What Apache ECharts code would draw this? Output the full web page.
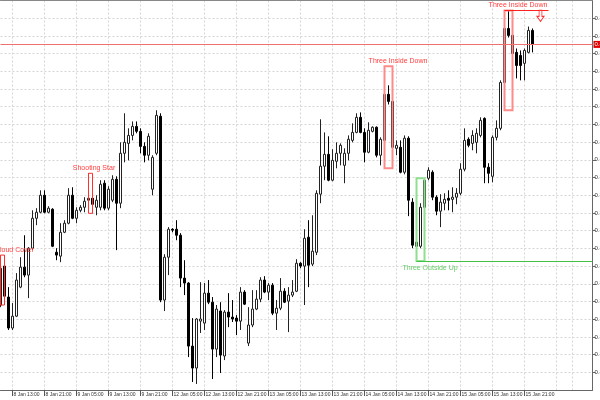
<!DOCTYPE html>
<html><head><meta charset="utf-8">
<script src="https://cdn.jsdelivr.net/npm/echarts@6/dist/echarts.min.js"></script>
<style>html,body{margin:0;padding:0;background:#fff}#c{width:600px;height:400px}</style>
</head><body><div id="c"></div>
<script>
// hourly session segments: [day, first hour, last hour]
const daySegments = [['8 Jan',10,23],['9 Jan',0,23],['12 Jan',0,23],['13 Jan',0,23],['14 Jan',0,23],['15 Jan',0,23],['16 Jan',0,14]];
const tickLabels = ['8 Jan 13:00','8 Jan 21:00','9 Jan 05:00','9 Jan 13:00','9 Jan 21:00','12 Jan 05:00','12 Jan 13:00','12 Jan 21:00','13 Jan 05:00','13 Jan 13:00','13 Jan 21:00','14 Jan 05:00','14 Jan 13:00','14 Jan 21:00','15 Jan 05:00','15 Jan 13:00','15 Jan 21:00'];
const extraGridTimes = ['16 Jan 05:00','16 Jan 09:00'];

const opens = [0.80980,0.81200,0.81025,0.80850,0.80917,0.81081,0.81194,0.81149,0.81301,0.81470,
0.81504,0.81600,0.81504,0.81521,0.81278,0.81256,0.81391,0.81442,0.81600,0.81470,
0.81515,0.81532,0.81572,0.81583,0.81532,0.81532,0.81668,0.81527,0.81572,0.81690,
0.81555,0.81837,0.81893,0.81938,0.81989,0.81961,0.81876,0.81826,0.81634,0.81837,
0.82046,0.81008,0.81250,0.81408,0.81408,0.81374,0.81132,0.81104,0.80748,0.80624,
0.80889,0.80878,0.81047,0.80996,0.80731,0.80946,0.80692,0.80940,0.80912,0.80906,
0.80889,0.81053,0.80765,0.80867,0.80957,0.81013,0.81121,0.81053,0.81092,0.80934,
0.80962,0.81058,0.81002,0.81036,0.81058,0.81216,0.81200,0.81363,0.81211,0.81278,
0.81606,0.81764,0.81831,0.81685,0.81792,0.81837,0.81769,0.81837,0.81910,0.81955,
0.82040,0.81955,0.81843,0.81961,0.81984,0.81826,0.81910,0.82170,0.82130,0.81865,
0.81871,0.81730,0.81922,0.81561,0.81335,0.81312,0.81532,0.81696,0.81730,0.81589,
0.81510,0.81555,0.81583,0.81577,0.81589,0.81611,0.81747,0.81916,0.81893,0.81899,
0.81938,0.82034,0.81758,0.81707,0.81927,0.81978,0.82237,0.82542,0.82503,0.82407,
0.82390,0.82345,0.82407,0.82531];
const closes = [0.81188,0.81030,0.80850,0.80917,0.81121,0.81194,0.81149,0.81301,0.81470,0.81504,
0.81600,0.81504,0.81527,0.81312,0.81262,0.81391,0.81442,0.81600,0.81470,0.81515,
0.81532,0.81566,0.81583,0.81549,0.81572,0.81662,0.81527,0.81634,0.81690,0.81555,
0.81837,0.81899,0.81938,0.81989,0.81961,0.81876,0.81826,0.81933,0.81814,0.82051,
0.81008,0.81250,0.81408,0.81403,0.81374,0.81132,0.81104,0.80748,0.80624,0.80901,
0.80901,0.81047,0.80996,0.80731,0.80957,0.80697,0.80940,0.80912,0.80901,0.80889,
0.81053,0.80985,0.80867,0.80957,0.81013,0.81121,0.81053,0.81092,0.80934,0.80962,
0.81058,0.80996,0.81036,0.81053,0.81216,0.81200,0.81357,0.81205,0.81284,0.81611,
0.81764,0.81831,0.81685,0.81797,0.81837,0.81882,0.81837,0.81916,0.81955,0.82040,
0.81955,0.81843,0.81967,0.81984,0.81826,0.81916,0.82170,0.82130,0.81871,0.81882,
0.81730,0.81922,0.81572,0.81318,0.81312,0.81532,0.81685,0.81741,0.81589,0.81510,
0.81561,0.81577,0.81572,0.81589,0.81611,0.81747,0.81910,0.81882,0.81938,0.81950,
0.82023,0.81758,0.81724,0.81927,0.81978,0.82237,0.82542,0.82503,0.82401,0.82333,
0.82333,0.82418,0.82531,0.82452];
const lows = [0.80968,0.81008,0.80839,0.80839,0.80912,0.81075,0.81137,0.81019,0.81290,0.81431,
0.81498,0.81498,0.81498,0.81307,0.81233,0.81222,0.81386,0.81436,0.81465,0.81442,
0.81504,0.81504,0.81561,0.81498,0.81487,0.81515,0.81515,0.81515,0.81561,0.81290,
0.81527,0.81786,0.81797,0.81910,0.81950,0.81837,0.81786,0.81797,0.81600,0.81826,
0.80996,0.80946,0.81149,0.81391,0.81346,0.81081,0.81036,0.80686,0.80545,0.80534,
0.80822,0.80839,0.80985,0.80562,0.80686,0.80596,0.80669,0.80855,0.80884,0.80810,
0.80839,0.80980,0.80748,0.80855,0.80951,0.80996,0.81047,0.81008,0.80923,0.80839,
0.80951,0.80991,0.80827,0.81025,0.81053,0.81188,0.80980,0.81081,0.81200,0.81262,
0.81555,0.81685,0.81679,0.81679,0.81752,0.81769,0.81668,0.81797,0.81899,0.81950,
0.81950,0.81786,0.81837,0.81955,0.81814,0.81769,0.81854,0.82113,0.81752,0.81826,
0.81724,0.81718,0.81482,0.81301,0.81228,0.81301,0.81515,0.81685,0.81572,0.81487,
0.81420,0.81515,0.81515,0.81504,0.81549,0.81600,0.81735,0.81871,0.81854,0.81837,
0.81927,0.81668,0.81668,0.81673,0.81910,0.81967,0.82221,0.82491,0.82362,0.82260,
0.82249,0.82249,0.82401,0.82407];
const highs = [0.81205,0.81262,0.81081,0.80991,0.81160,0.81250,0.81374,0.81307,0.81515,0.81527,
0.81628,0.81628,0.81538,0.81527,0.81301,0.81442,0.81459,0.81640,0.81645,0.81532,
0.81544,0.81589,0.81724,0.81594,0.81600,0.81685,0.81685,0.81651,0.81713,0.81707,
0.81899,0.82063,0.81978,0.82017,0.82017,0.81978,0.81899,0.81950,0.81826,0.82080,
0.82063,0.81267,0.81420,0.81414,0.81459,0.81386,0.81233,0.81109,0.80906,0.80906,
0.81109,0.81104,0.81121,0.81025,0.80980,0.80996,0.80951,0.81047,0.81008,0.80923,
0.81081,0.81064,0.80968,0.81064,0.81064,0.81137,0.81143,0.81104,0.81104,0.81008,
0.81132,0.81075,0.81081,0.81121,0.81239,0.81222,0.81408,0.81459,0.81487,0.81628,
0.82029,0.81955,0.81933,0.81860,0.81899,0.81893,0.81865,0.81938,0.82006,0.82063,
0.82068,0.81978,0.82012,0.81989,0.81989,0.81927,0.82328,0.82221,0.82142,0.81910,
0.81910,0.81938,0.81933,0.81583,0.81357,0.81555,0.81696,0.81758,0.81741,0.81600,
0.81606,0.81611,0.81628,0.81645,0.81640,0.81781,0.81978,0.81927,0.81967,0.81978,
0.82040,0.82040,0.81781,0.81938,0.82023,0.82249,0.82644,0.82644,0.82514,0.82429,
0.82418,0.82429,0.82553,0.82542];

// candlestick pattern annotations: bar range and price box
const patterns = [
  {name:'Dark Cloud Cover',  from:0,   to:1,   top:0.81262, bottom:0.80980, kind:'bear1'},
  {name:'Shooting Star',     from:22,  to:23,  top:0.81724, bottom:0.81498, kind:'bear1'},
  {name:'Three Inside Down', from:96,  to:98,  top:0.82328, bottom:0.81752, kind:'bear2'},
  {name:'Three Outside Up',  from:104, to:106, top:0.81696, bottom:0.81228, kind:'bull'},
  {name:'Three Inside Down', from:126, to:128, top:0.82644, bottom:0.82080, kind:'bear2'}
];
const extensions = [
  {from:126, to:137, price:0.82644, kind:'bear'},
  {from:104, to:148, price:0.81228, kind:'bull'}
];
const signals = [{index:135, price:0.82613}];

const categories = [];
daySegments.forEach(([d,a,b]) => { for (let h=a; h<=b; h++) categories.push(d+' '+String(h).padStart(2,'0')+':00'); });
const labelSet = new Set(tickLabels);
const gridSet = new Set(tickLabels.concat(extraGridTimes));
const ohlc = opens.map((o,i) => [o, closes[i], lows[i], highs[i]]);

const boxStyle = {
  bear1:{border:'#ff3030', width:1, text:'#ff4040'},
  bear2:{border:'#ff8a8a', width:2, text:'#ff4040'},
  bull:{border:'#8ee08e', width:2, text:'#66cc66'}
};
const FONT = "'Liberation Sans', Arial, sans-serif";
const NARROW = "'Liberation Sans Narrow', 'Liberation Sans', Arial, sans-serif";

const markAreaData = patterns.map(p => {
  const s = boxStyle[p.kind];
  const bars = p.to - p.from + 1;
  return [
    {name:p.name, coord:[p.from, p.top],
     itemStyle:{color:'rgba(0,0,0,0)', borderColor:s.border, borderWidth:s.width},
     label:{show:true, position: p.kind==='bull' ? 'bottom' : 'top', distance: p.kind==='bull' ? 2 : 1,
            offset:[bars===2 ? 3.5 : 9.5, 0], color:s.text, fontSize:7, fontFamily:FONT}},
    {coord:[p.to, p.bottom]}
  ];
});

const lastClose = closes[closes.length-1];
const markLineData = [
  {yAxis:lastClose, lineStyle:{color:'#f07070', width:1, type:'solid'},
   label:{show:true, position:'end', distance:1, formatter: p => Number(p.value).toFixed(5),
          backgroundColor:'#e00000', color:'#fff', fontSize:6, fontFamily:NARROW, padding:[1,1,0,1]}}
].concat(extensions.map(e => [
  {coord:[e.from, e.price], lineStyle:{color: e.kind==='bull' ? '#44c044' : '#ff2020', width:1, type:'solid'}, label:{show:false}},
  {coord:[e.to, e.price]}
]));

const chart = echarts.init(document.getElementById('c'), null, {renderer:'canvas'});
chart.setOption({
  animation:false,
  backgroundColor:'#ffffff',
  grid:{left:0.5, right:7.5, top:0.5, bottom:10, containLabel:false, outerBoundsMode:'none'},
  xAxis:[{
    type:'category', data:categories, boundaryGap:false,
    axisLine:{show:true, lineStyle:{color:'#666', width:1}},
    axisTick:{show:true, length:6, interval:(i,v)=>labelSet.has(v), lineStyle:{color:'#555'}},
    axisLabel:{show:true, interval:(i,v)=>labelSet.has(v), align:'left', margin:2, padding:[0,0,0,1],
               fontSize:5, color:'#333', fontFamily:NARROW, formatter:v=>v},
    splitLine:{show:true, interval:(i,v)=>gridSet.has(v), lineStyle:{color:'#d6d6d6', type:[2,2], width:1}}
  },{
    type:'category', data:categories, boundaryGap:false, position:'top',
    axisLine:{show:true, lineStyle:{color:'#888', width:1}},
    axisTick:{show:false}, axisLabel:{show:false}, splitLine:{show:false}
  }],
  yAxis:{
    type:'value', position:'right', min:0.805, max:0.827, interval:0.001, scale:true,
    axisLine:{show:true, lineStyle:{color:'#666', width:1}},
    axisTick:{show:true, length:3, lineStyle:{color:'#666'}},
    axisLabel:{show:true, showMinLabel:false, showMaxLabel:false, margin:2, fontSize:6, color:'#333',
               fontFamily:NARROW, formatter:v=>v.toFixed(5)},
    splitLine:{show:true, lineStyle:{color:'#d6d6d6', type:[2,2], width:1}}
  },
  series:[{
    type:'candlestick', data:ohlc, barWidth:3, clip:false, silent:true, z:2,
    itemStyle:{color:'#ffffff', color0:'#000000', borderColor:'#222222', borderColor0:'#000000', borderWidth:1},
    markArea:{silent:true, z:6, data:markAreaData},
    markLine:{silent:true, z:7, symbol:'none', precision:5, animation:false, data:markLineData},
    markPoint:{silent:true, z:7, symbol:'path://M3,0 L7,0 L7,6 L10,6 L5,11 L0,6 L3,6 Z', symbolSize:[7,11],
      itemStyle:{color:'#ffffff', borderColor:'#ff3030', borderWidth:1}, label:{show:false},
      data: signals.map(s => ({coord:[s.index, s.price]}))}
  }]
});
</script></body></html>
